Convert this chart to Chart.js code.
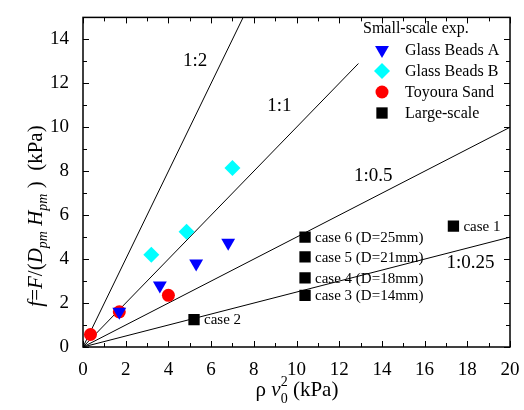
<!DOCTYPE html>
<html>
<head>
<meta charset="utf-8">
<script src="https://cdn.jsdelivr.net/npm/chart.js@4.4.1/dist/chart.umd.min.js"></script>
<style>
  html, body { margin: 0; padding: 0; background: #fff; }
</style>
</head>
<body>
<canvas id="chart" width="524" height="410"></canvas>
<script>
// values
const beadsAX = [1.7, 3.6, 5.3, 6.8];
const beadsAY = [1.6, 2.8, 3.8, 4.75];
const beadsBX = [3.2, 4.85, 7.0];
const beadsBY = [4.2, 5.25, 8.15];
const sandX = [0.35, 1.7, 4.0];
const sandY = [0.57, 1.6, 2.35];
const largeX = [17.35, 5.2, 10.4, 10.4, 10.4, 10.4];
const largeY = [5.5, 1.25, 2.35, 3.15, 4.1, 5.0];
const largeLabels = ['case 1', 'case 2', 'case 3 (D=14mm)', 'case 4 (D=18mm)', 'case 5 (D=21mm)', 'case 6 (D=25mm)'];

// reference ratio lines, from the origin to these end points
const ratioLabels = ['1:2', '1:1', '1:0.5', '1:0.25'];
const ratioEndX = [7.5, 12.9, 20, 20];
const ratioEndY = [15, 12.9, 10, 5];

const xTicks = [0, 2, 4, 6, 8, 10, 12, 14, 16, 18, 20];
const yTicks = [0, 2, 4, 6, 8, 10, 12, 14];

const legendTitle = 'Small-scale exp.';
const seriesNames = ['Glass Beads A', 'Glass Beads B', 'Toyoura Sand', 'Large-scale'];

// where the ratio labels sit (data units)
const ratioLabelPos = [[5.25, 13.0], [9.2, 10.95], [13.6, 7.8], [18.15, 3.8]];

const serif = "'Liberation Serif', 'DejaVu Serif', serif";

function pts(xs, ys) {
    return xs.map((x, i) => ({ x: x, y: ys[i] }));
}

const lineSets = ratioLabels.map((name, i) => ({
    label: name,
    data: [{ x: 0, y: 0 }, { x: ratioEndX[i], y: ratioEndY[i] }],
    showLine: true,
    borderColor: '#000',
    borderWidth: 1,
    pointRadius: 0,
    order: 10
}));

const markerSets = [
    { label: seriesNames[0], data: pts(beadsAX, beadsAY), pointStyle: 'triangle', rotation: 180, pointRadius: 8,
      backgroundColor: '#0000ff', borderColor: '#0000ff', borderWidth: 0, order: 1 },
    { label: seriesNames[1], data: pts(beadsBX, beadsBY), pointStyle: 'rectRot', pointRadius: 8,
      backgroundColor: '#00ffff', borderColor: '#00ffff', borderWidth: 0, order: 2 },
    { label: seriesNames[2], data: pts(sandX, sandY), pointStyle: 'circle', pointRadius: 6.5,
      backgroundColor: '#ff0000', borderColor: '#ff0000', borderWidth: 0, order: 3 },
    { label: seriesNames[3], data: pts(largeX, largeY), pointStyle: 'rect', pointRadius: 8,
      backgroundColor: '#000', borderColor: '#000', borderWidth: 0, order: 4 }
];

function drawRich(ctx, segs, x, y) {
    let w = 0;
    segs.forEach(s => {
        ctx.font = (s.italic ? 'italic ' : '') + s.size + 'px ' + serif;
        s.w = ctx.measureText(s.t).width;
        if (!s.stack) w += s.w;
    });
    let cx = x - w / 2;
    let last = cx;
    segs.forEach(s => {
        ctx.font = (s.italic ? 'italic ' : '') + s.size + 'px ' + serif;
        const at = s.stack ? last : cx;
        ctx.fillText(s.t, at, y + (s.dy || 0));
        if (!s.stack) { last = cx; cx += s.w; }
    });
}

const framePlugin = {
    id: 'frame',
    afterDraw(chart) {
        const ctx = chart.ctx;
        const a = chart.chartArea;
        const xs = chart.scales.x, ys = chart.scales.y;
        ctx.save();
        ctx.strokeStyle = '#000';
        ctx.fillStyle = '#000';

        // box
        ctx.lineWidth = 1.5;
        ctx.strokeRect(a.left, a.top, a.right - a.left, a.bottom - a.top);

        // inward ticks on all four sides, minor ticks half way
        ctx.lineWidth = 1;
        ctx.beginPath();
        for (let v = 0; v <= 20; v++) {
            const px = Math.round(xs.getPixelForValue(v)) + 0.5;
            const len = v % 2 === 0 ? 6 : 4;
            ctx.moveTo(px, a.bottom); ctx.lineTo(px, a.bottom - len);
            ctx.moveTo(px, a.top); ctx.lineTo(px, a.top + len);
        }
        for (let v = 0; v <= 15; v++) {
            const py = Math.round(ys.getPixelForValue(v)) + 0.5;
            const len = v % 2 === 0 ? 6 : 4;
            ctx.moveTo(a.left, py); ctx.lineTo(a.left + len, py);
            ctx.moveTo(a.right, py); ctx.lineTo(a.right - len, py);
        }
        ctx.stroke();

        // ratio labels
        ctx.font = '19px ' + serif;
        ctx.textAlign = 'center';
        ctx.textBaseline = 'middle';
        ratioLabels.forEach((t, i) => {
            ctx.fillText(t, xs.getPixelForValue(ratioLabelPos[i][0]), ys.getPixelForValue(ratioLabelPos[i][1]));
        });

        // case labels next to the large-scale squares
        ctx.font = '15px ' + serif;
        ctx.textAlign = 'left';
        largeLabels.forEach((t, i) => {
            ctx.fillText(t, xs.getPixelForValue(largeX[i]) + 10, ys.getPixelForValue(largeY[i]) + 1);
        });

        // legend
        ctx.font = '16px ' + serif;
        ctx.fillText(legendTitle, 363, 29);
        markerSets.forEach((ds, i) => {
            const y = 50 + i * 21;
            ctx.fillStyle = ds.backgroundColor;
            Chart.helpers.drawPoint(ctx, { pointStyle: ds.pointStyle, radius: ds.pointRadius, rotation: ds.rotation || 0, borderWidth: 0 }, 382, y);
            ctx.fillStyle = '#000';
            ctx.fillText(ds.label, 405, y + 1);
        });

        // axis titles
        ctx.textAlign = 'left';
        ctx.textBaseline = 'alphabetic';
        drawRich(ctx, [
            { t: '\u03c1 ', size: 21 },
            { t: 'v', size: 21, italic: true },
            { t: '0', size: 14, dy: 7 },
            { t: '2', size: 14, dy: -10, stack: true },
            { t: ' (kPa)', size: 21 }
        ], 297, 396);

        ctx.translate(42, 216);
        ctx.rotate(-Math.PI / 2);
        drawRich(ctx, [
            { t: 'f', size: 21, italic: true },
            { t: '=', size: 21 },
            { t: 'F', size: 21, italic: true },
            { t: '/(', size: 21 },
            { t: 'D', size: 21, italic: true },
            { t: 'pm', size: 14, italic: true, dy: 5 },
            { t: ' ', size: 21 },
            { t: 'H', size: 21, italic: true },
            { t: 'pm', size: 14, italic: true, dy: 5 },
            { t: ' )  (kPa)', size: 21 }
        ], 0, 0);
        ctx.restore();
    }
};

new Chart(document.getElementById('chart'), {
    type: 'scatter',
    data: { datasets: markerSets.concat(lineSets) },
    options: {
        responsive: false,
        animation: false,
        layout: { padding: { top: 12, right: 14, left: 0, bottom: 0 } },
        plugins: { legend: { display: false }, tooltip: { enabled: false } },
        scales: {
            x: {
                type: 'linear', min: 0, max: 20,
                afterBuildTicks(s) { s.ticks = xTicks.map(v => ({ value: v })); },
                ticks: { color: '#000', font: { family: serif, size: 19 }, padding: 4, maxRotation: 0 },
                grid: { display: false },
                border: { display: false },
                afterFit(s) { s.height = 63; }
            },
            y: {
                type: 'linear', min: 0, max: 15,
                afterBuildTicks(s) { s.ticks = yTicks.map(v => ({ value: v })); },
                ticks: { color: '#000', font: { family: serif, size: 19 }, padding: 6 },
                grid: { display: false },
                border: { display: false },
                afterFit(s) { s.width = 83; }
            }
        }
    },
    plugins: [framePlugin]
});
</script>
</body>
</html>
